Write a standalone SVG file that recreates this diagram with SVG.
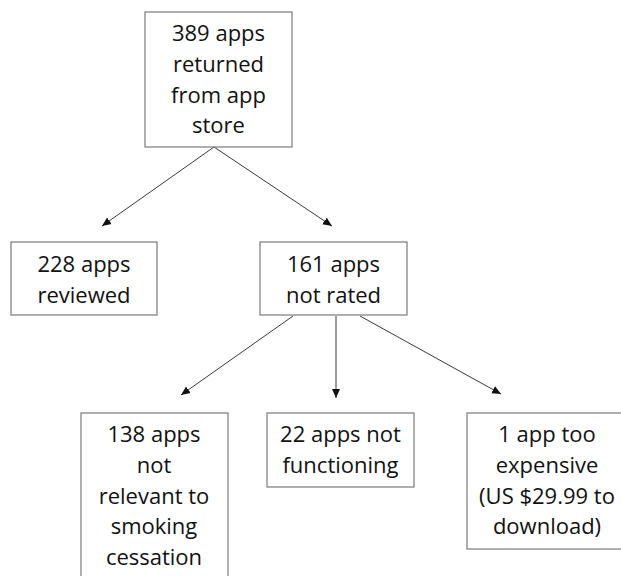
<svg xmlns="http://www.w3.org/2000/svg" width="621" height="576" viewBox="0 0 621 576">
<defs>
<style>
.box{fill:#fff;stroke:#7a7a7a;stroke-width:1.2}
.t{font-family:"Open Sans","Noto Sans",sans-serif;font-size:22px;fill:#111;text-anchor:middle}
.c{stroke:#3a3a3a;stroke-width:1;fill:none;marker-end:url(#ah)}
</style>
<marker id="ah" markerUnits="userSpaceOnUse" markerWidth="10" markerHeight="10" viewBox="0 0 10 10" refX="9" refY="5" orient="auto">
<path d="M0,1 L9,5 L0,9 Z" fill="#111"/>
</marker>
</defs>
<rect width="621" height="576" fill="#fff"/>
<g id="connectors">
<line class="c" x1="214" y1="147" x2="102" y2="226"/>
<line class="c" x1="214" y1="147" x2="332" y2="226"/>
<line class="c" x1="293" y1="316" x2="181" y2="395"/>
<line class="c" x1="336" y1="316" x2="336" y2="398"/>
<line class="c" x1="360" y1="316" x2="501" y2="394"/>
</g>
<g id="n389">
<rect class="box" x="145" y="12" width="147" height="135"/>
<text class="t" x="218.5" y="41">389 apps</text>
<text class="t" x="218.5" y="72">returned</text>
<text class="t" x="218.5" y="102.5">from app</text>
<text class="t" x="218.5" y="133">store</text>
</g>
<g id="n228">
<rect class="box" x="11" y="242" width="146" height="73"/>
<text class="t" x="84" y="272">228 apps</text>
<text class="t" x="84" y="302.5">reviewed</text>
</g>
<g id="n161">
<rect class="box" x="260" y="242" width="147" height="73"/>
<text class="t" x="333.5" y="272">161 apps</text>
<text class="t" x="333.5" y="302.5">not rated</text>
</g>
<g id="n138">
<rect class="box" x="81" y="413" width="147" height="175"/>
<text class="t" x="154" y="442">138 apps</text>
<text class="t" x="154" y="473">not</text>
<text class="t" x="154" y="503.5">relevant to</text>
<text class="t" x="154" y="534">smoking</text>
<text class="t" x="154" y="565">cessation</text>
</g>
<g id="n22">
<rect class="box" x="267" y="413" width="147" height="74"/>
<text class="t" x="340.5" y="442">22 apps not</text>
<text class="t" x="340.5" y="473">functioning</text>
</g>
<g id="n1">
<rect class="box" x="467" y="413" width="160" height="136"/>
<text class="t" x="547" y="442">1 app too</text>
<text class="t" x="547" y="473">expensive</text>
<text class="t" x="547" y="503.5">(US $29.99 to</text>
<text class="t" x="547" y="534">download)</text>
</g>
</svg>
